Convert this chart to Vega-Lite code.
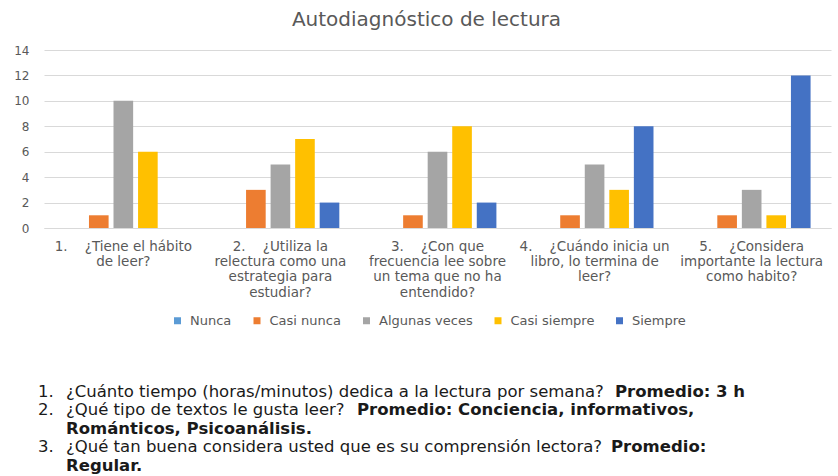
{
  "$schema": "https://vega.github.io/schema/vega-lite/v6.json",
  "background": "white",
  "padding": {"left": 13, "top": 10, "right": 6, "bottom": 0},
  "bounds": "flush",
  "spacing": 145,
  "config": {"view": {"stroke": null}, "font": "DejaVu Sans"},
  "vconcat": [
    {
      "width": 787,
      "height": 178,
      "title": {"text": "Autodiagnóstico de lectura", "fontSize": 20, "fontWeight": "normal", "color": "#595959", "offset": 14, "dx": -11, "font": "DejaVu Sans"},
      "data": {"values": [
        {"q": "1.\u00a0\u00a0\u00a0\u00a0¿Tiene el hábito|de leer?", "s": "Nunca", "v": 0},
        {"q": "1.\u00a0\u00a0\u00a0\u00a0¿Tiene el hábito|de leer?", "s": "Casi nunca", "v": 1},
        {"q": "1.\u00a0\u00a0\u00a0\u00a0¿Tiene el hábito|de leer?", "s": "Algunas veces", "v": 10},
        {"q": "1.\u00a0\u00a0\u00a0\u00a0¿Tiene el hábito|de leer?", "s": "Casi siempre", "v": 6},
        {"q": "1.\u00a0\u00a0\u00a0\u00a0¿Tiene el hábito|de leer?", "s": "Siempre", "v": 0},
        {"q": "2.\u00a0\u00a0\u00a0\u00a0¿Utiliza la|relectura como una|estrategia para|estudiar?", "s": "Nunca", "v": 0},
        {"q": "2.\u00a0\u00a0\u00a0\u00a0¿Utiliza la|relectura como una|estrategia para|estudiar?", "s": "Casi nunca", "v": 3},
        {"q": "2.\u00a0\u00a0\u00a0\u00a0¿Utiliza la|relectura como una|estrategia para|estudiar?", "s": "Algunas veces", "v": 5},
        {"q": "2.\u00a0\u00a0\u00a0\u00a0¿Utiliza la|relectura como una|estrategia para|estudiar?", "s": "Casi siempre", "v": 7},
        {"q": "2.\u00a0\u00a0\u00a0\u00a0¿Utiliza la|relectura como una|estrategia para|estudiar?", "s": "Siempre", "v": 2},
        {"q": "3.\u00a0\u00a0\u00a0\u00a0¿Con que|frecuencia lee sobre|un tema que no ha|entendido?", "s": "Nunca", "v": 0},
        {"q": "3.\u00a0\u00a0\u00a0\u00a0¿Con que|frecuencia lee sobre|un tema que no ha|entendido?", "s": "Casi nunca", "v": 1},
        {"q": "3.\u00a0\u00a0\u00a0\u00a0¿Con que|frecuencia lee sobre|un tema que no ha|entendido?", "s": "Algunas veces", "v": 6},
        {"q": "3.\u00a0\u00a0\u00a0\u00a0¿Con que|frecuencia lee sobre|un tema que no ha|entendido?", "s": "Casi siempre", "v": 8},
        {"q": "3.\u00a0\u00a0\u00a0\u00a0¿Con que|frecuencia lee sobre|un tema que no ha|entendido?", "s": "Siempre", "v": 2},
        {"q": "4.\u00a0\u00a0\u00a0\u00a0¿Cuándo inicia un|libro, lo termina de|leer?", "s": "Nunca", "v": 0},
        {"q": "4.\u00a0\u00a0\u00a0\u00a0¿Cuándo inicia un|libro, lo termina de|leer?", "s": "Casi nunca", "v": 1},
        {"q": "4.\u00a0\u00a0\u00a0\u00a0¿Cuándo inicia un|libro, lo termina de|leer?", "s": "Algunas veces", "v": 5},
        {"q": "4.\u00a0\u00a0\u00a0\u00a0¿Cuándo inicia un|libro, lo termina de|leer?", "s": "Casi siempre", "v": 3},
        {"q": "4.\u00a0\u00a0\u00a0\u00a0¿Cuándo inicia un|libro, lo termina de|leer?", "s": "Siempre", "v": 8},
        {"q": "5.\u00a0\u00a0\u00a0\u00a0¿Considera|importante la lectura|como habito?", "s": "Nunca", "v": 0},
        {"q": "5.\u00a0\u00a0\u00a0\u00a0¿Considera|importante la lectura|como habito?", "s": "Casi nunca", "v": 1},
        {"q": "5.\u00a0\u00a0\u00a0\u00a0¿Considera|importante la lectura|como habito?", "s": "Algunas veces", "v": 3},
        {"q": "5.\u00a0\u00a0\u00a0\u00a0¿Considera|importante la lectura|como habito?", "s": "Casi siempre", "v": 1},
        {"q": "5.\u00a0\u00a0\u00a0\u00a0¿Considera|importante la lectura|como habito?", "s": "Siempre", "v": 12}
      ]},
      "mark": {"type": "bar"},
      "encoding": {
        "x": {
          "field": "q", "type": "nominal",
          "scale": {"paddingInner": 0.25, "paddingOuter": 0.13},
          "axis": {"title": null, "labelAngle": 0, "ticks": false, "domain": true, "domainColor": "#d9d9d9",
                   "labelColor": "#595959", "labelFontSize": 13.5, "labelLineHeight": 15.4, "labelPadding": 11,
                   "labelExpr": "split(datum.label, '|')", "labelLimit": 220, "labelFont": "DejaVu Sans"}
        },
        "xOffset": {"field": "s", "type": "nominal", "sort": ["Nunca", "Casi nunca", "Algunas veces", "Casi siempre", "Siempre"], "scale": {"paddingInner": 0.2}},
        "y": {
          "field": "v", "type": "quantitative",
          "scale": {"domain": [0, 14]},
          "axis": {"title": null, "values": [0, 2, 4, 6, 8, 10, 12, 14], "domain": false, "ticks": false,
                   "gridColor": "#d9d9d9", "labelColor": "#595959", "labelFontSize": 12, "labelPadding": 15, "labelFont": "DejaVu Sans"}
        },
        "color": {
          "field": "s", "type": "nominal",
          "scale": {"domain": ["Nunca", "Casi nunca", "Algunas veces", "Casi siempre", "Siempre"],
                    "range": ["#5B9BD5", "#ED7D31", "#A5A5A5", "#FFC000", "#4472C4"]},
          "legend": {"title": null, "orient": "none", "direction": "horizontal", "legendX": 127, "legendY": 264,
                     "symbolType": "square", "symbolSize": 49, "symbolStrokeWidth": 0, "labelFontSize": 13,
                     "labelOffset": 6, "labelColor": "#595959", "columnPadding": 18.5, "labelFont": "DejaVu Sans"}
        }
      }
    },
    {
      "width": 787,
      "height": 92.5,
      "data": {"values": [
        {"line": 1, "pos": 37, "t": "1.", "w": "normal"},
        {"line": 1, "pos": 65, "t": "¿Cuánto tiempo (horas/minutos) dedica a la lectura por semana?", "w": "normal"},
        {"line": 1, "pos": 614, "t": "Promedio: 3 h", "w": "bold"},
        {"line": 2, "pos": 37, "t": "2.", "w": "normal"},
        {"line": 2, "pos": 65, "t": "¿Qué tipo de textos le gusta leer?", "w": "normal"},
        {"line": 2, "pos": 356, "t": "Promedio: Conciencia, informativos,", "w": "bold"},
        {"line": 3, "pos": 65, "t": "Románticos, Psicoanálisis.", "w": "bold"},
        {"line": 4, "pos": 37, "t": "3.", "w": "normal"},
        {"line": 4, "pos": 65, "t": "¿Qué tan buena considera usted que es su comprensión lectora?", "w": "normal"},
        {"line": 4, "pos": 610, "t": "Promedio:", "w": "bold"},
        {"line": 5, "pos": 65, "t": "Regular.", "w": "bold"}
      ]},
      "encoding": {
        "x": {"field": "pos", "type": "quantitative", "scale": {"domain": [43, 830]}, "axis": null},
        "y": {"field": "line", "type": "quantitative", "scale": {"domain": [0, 5], "reverse": true}, "axis": null},
        "text": {"field": "t"}
      },
      "layer": [
        {"transform": [{"filter": "datum.w === 'normal'"}],
         "mark": {"type": "text", "align": "left", "baseline": "middle", "font": "DejaVu Sans", "fontSize": 16.5, "color": "#1a1a1a"}},
        {"transform": [{"filter": "datum.w === 'bold'"}],
         "mark": {"type": "text", "align": "left", "baseline": "middle", "font": "DejaVu Sans", "fontSize": 16.5, "fontWeight": "bold", "color": "#1a1a1a"}}
      ]
    }
  ]
}
